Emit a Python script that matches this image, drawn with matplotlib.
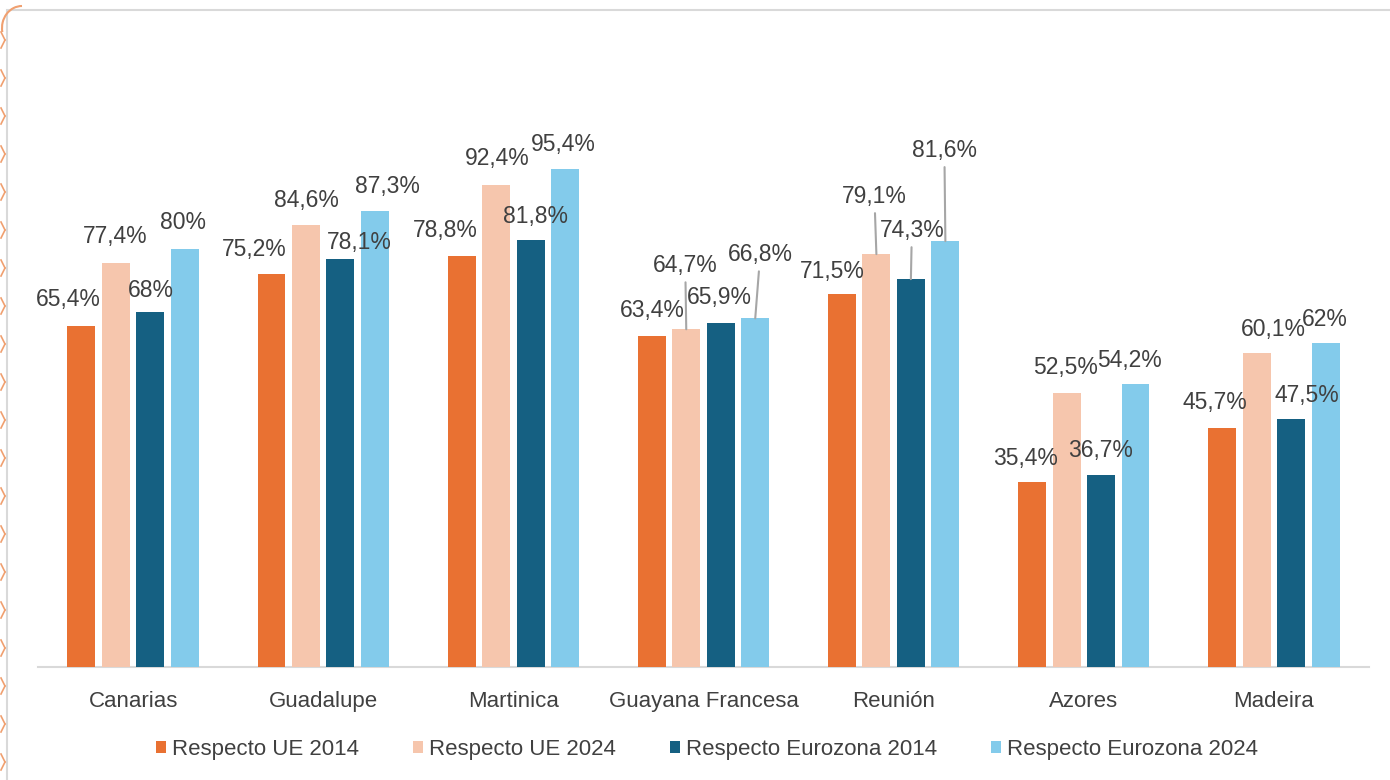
import matplotlib
matplotlib.use("Agg")
import matplotlib.pyplot as plt
from matplotlib.patches import Rectangle, Arc
from matplotlib.lines import Line2D
import numpy as np

plt.rcParams['font.family'] = ['Liberation Sans', 'DejaVu Sans']

categories = ["Canarias", "Guadalupe", "Martinica", "Guayana Francesa", "Reunión", "Azores", "Madeira"]
series_names = ["Respecto UE 2014", "Respecto UE 2024", "Respecto Eurozona 2014", "Respecto Eurozona 2024"]
ue_2014 = [65.4, 75.2, 78.8, 63.4, 71.5, 35.4, 45.7]
ue_2024 = [77.4, 84.6, 92.4, 64.7, 79.1, 52.5, 60.1]
ez_2014 = [68.0, 78.1, 81.8, 65.9, 74.3, 36.7, 47.5]
ez_2024 = [80.0, 87.3, 95.4, 66.8, 81.6, 54.2, 62.0]

colors = ["#E97132", "#F6C6AD", "#156082", "#83CBEB"]
series = [ue_2014, ue_2024, ez_2014, ez_2024]

# label offsets in pixels (dx, dy above bar top), per series per category
label_offsets = [
    [(-13, 26), (-17, 25), (-16, 25), (1, 26), (-10, 22), (-7, 24), (-7, 26)],
    [(-1, 26), (0, 25), (1, 26), (-1, 64), (-2, 58), (-1, 25), (17, 24)],
    [(1, 22), (19, 17), (5, 24), (-1, 26), (1, 49), (-1, 25), (16, 24)],
    [(-2, 27), (12, 25), (-2, 25), (5, 64), (-1, 91), (-6, 24), (-1, 24)],
]
leaders = {(1, 3), (3, 3), (1, 4), (2, 4), (3, 4)}

def fmt(v):
    s = f"{v:.1f}".replace(".", ",")
    if s.endswith(",0"):
        s = s[:-2]
    return s + "%"

W, H = 1390, 780
fig = plt.figure(figsize=(W / 100, H / 100), dpi=100)
fig.patch.set_facecolor("white")

ax_left, ax_right, ax_bottom, ax_top = 38, 1369, 667, 40.6
ax = fig.add_axes([ax_left / W, 1 - ax_bottom / H, (ax_right - ax_left) / W, (ax_bottom - ax_top) / H])
ax.set_facecolor("none")

x = np.arange(len(categories))
width = 0.147
step = 0.1814
for i, (vals, col) in enumerate(zip(series, colors)):
    xs = x + (i - 1.5) * step
    ax.bar(xs, vals, width=width, color=col, label=series_names[i], zorder=2)
    for j, v in enumerate(vals):
        dx, dy = label_offsets[i][j]
        kw = {}
        if (i, j) in leaders:
            kw["arrowprops"] = dict(arrowstyle="-", color="#A6A6A6", lw=1.5, shrinkA=2, shrinkB=0)
        ax.annotate(fmt(v), xy=(xs[j], v), xytext=(dx, dy), textcoords="offset pixels",
                    ha="center", va="center", fontsize=16.5, color="#404040", zorder=3, **kw)

ax.set_xlim(-0.5, len(categories) - 0.5)
ax.set_ylim(0, 120)
ax.set_yticks([])
ax.set_xticks(x)
ax.set_xticklabels(categories, fontsize=16, color="#404040")
ax.tick_params(axis="x", length=0, pad=17)
for s in ["top", "right", "left"]:
    ax.spines[s].set_visible(False)
ax.spines["bottom"].set_color("#D9D9D9")
ax.spines["bottom"].set_linewidth(1.5)
ax.spines["bottom"].set_zorder(1)

handles = [Rectangle((0, 0), 1, 1, facecolor=c) for c in colors]
fig.legend(handles, series_names, loc="center", bbox_to_anchor=(707 / W, 1 - 749 / H),
           ncol=4, frameon=False, fontsize=16, handlelength=0.45, handleheight=0.45,
           handletextpad=0.3, columnspacing=2.4, labelcolor="#404040")

# outer frame
fig.patches.append(Rectangle((7 / W, -0.02), 1.1, 1 - 10 / H + 0.02, transform=fig.transFigure,
                             facecolor="none", edgecolor="#D9D9D9", lw=1.5, zorder=0))
# left decorative edge
for yy in np.arange(40, 780, 38):
    fig.add_artist(Line2D([1 / W, 5 / W], [1 - (yy - 8) / H, 1 - yy / H], transform=fig.transFigure,
                          color="#F0A070", lw=1.2))
    fig.add_artist(Line2D([1 / W, 5 / W], [1 - (yy + 8) / H, 1 - yy / H], transform=fig.transFigure,
                          color="#F0A070", lw=1.2))
fig.add_artist(Arc((22 / W, 1 - 28 / H), 40 / W, 44 / H, theta1=90, theta2=200,
                   transform=fig.transFigure, color="#F0A070", lw=1.5))

fig.savefig("out.png", dpi=100)
